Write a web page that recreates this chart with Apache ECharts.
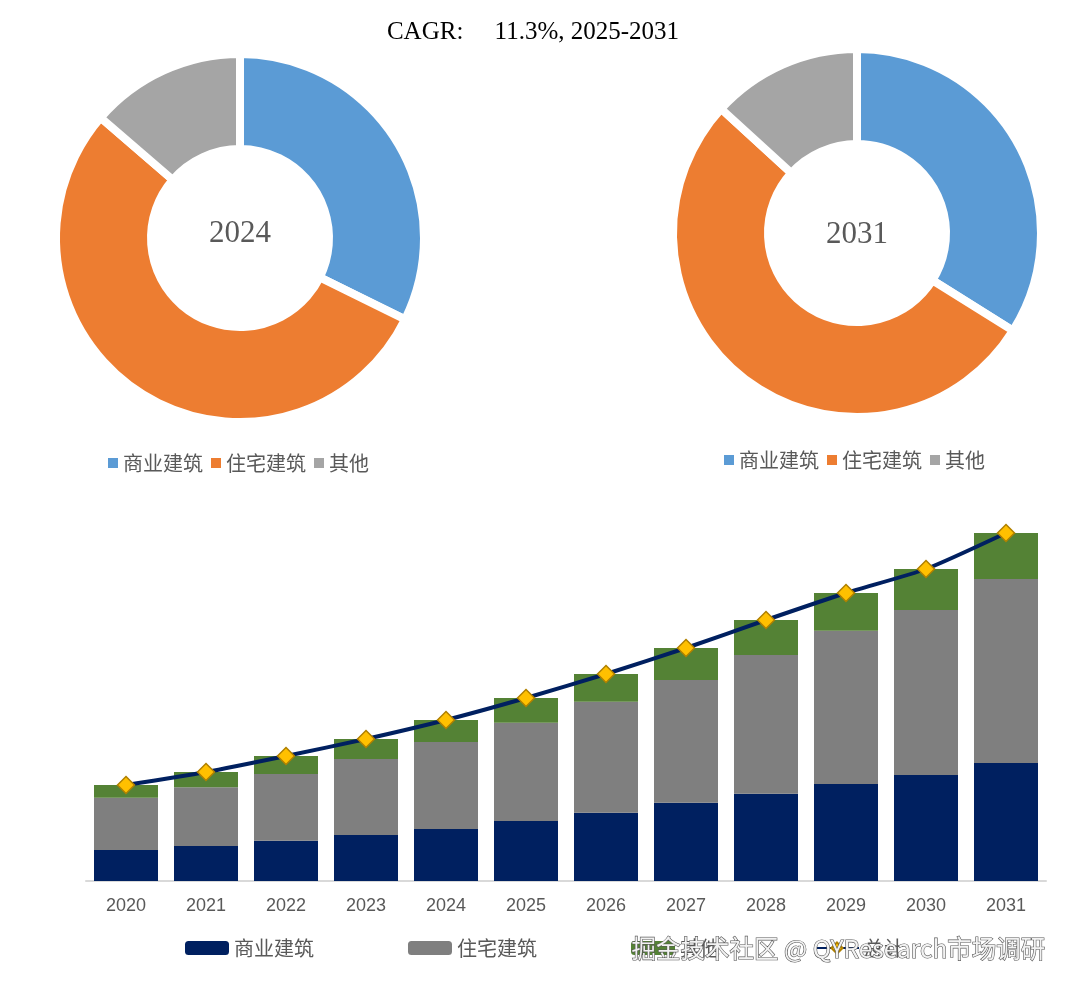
<!DOCTYPE html>
<html>
<head>
<meta charset="utf-8">
<script src="https://cdn.jsdelivr.net/npm/echarts@6/dist/echarts.min.js"></script>
<style>
html,body{margin:0;padding:0;background:#fff;}
#main{width:1077px;height:993px;}
</style>
</head>
<body>
<div id="main"></div>
<script>
// ---- data ----
var years = ['2020','2021','2022','2023','2024','2025','2026','2027','2028','2029','2030','2031'];
var commercial = [31, 35, 40.3, 46, 52, 60, 68.3, 78.3, 87.3, 97, 106, 118];
var residential = [52.3, 58.7, 66.7, 76, 87, 98.3, 111, 122.7, 138.7, 153.3, 165, 184];
var other = [12.7, 15.3, 18, 20, 22, 24.7, 27.7, 32, 35, 37.7, 41, 46];
var segmentNames = ['商业建筑', '住宅建筑', '其他'];
var totalName = '总计';
var pieYears = ['2024', '2031'];
var titleText = 'CAGR:     11.3%, 2025-2031';
var watermark = '掘金技术社区 @ QYResearch市场调研';

var total = years.map(function(y, i){ return +(commercial[i] + residential[i] + other[i]).toFixed(1); });

var pieColors = ['#5B9BD5', '#ED7D31', '#A5A5A5'];
var barColors = ['#002060', '#7F7F7F', '#548235'];

function pieData(year){
  var i = years.indexOf(year);
  var vals = [commercial[i], residential[i], other[i]];
  return segmentNames.map(function(n, k){
    return {name: n, value: vals[k], itemStyle: {color: pieColors[k]}};
  });
}
function pieLegendData(){
  return segmentNames.map(function(n, k){
    return {name: n, icon: 'rect', itemStyle: {color: pieColors[k], borderWidth: 0}};
  });
}

var cjk = '"Noto Sans CJK SC", "Noto Sans", sans-serif';
var serif = '"Liberation Serif", "DejaVu Serif", serif';

var chart = echarts.init(document.getElementById('main'));
var option = {
  backgroundColor: '#fff',
  animation: false,
  title: [
    {text: titleText, left: 528, top: 15, textAlign: 'center', textStyle: {fontFamily: serif, fontSize: 25, fontWeight: 'normal', color: '#000'}},
    {text: pieYears[0], left: 235, top: 229, textAlign: 'center', textVerticalAlign: 'middle',
      textStyle: {fontFamily: serif, fontSize: 31, fontWeight: 'normal', color: '#595959'}},
    {text: pieYears[1], left: 852, top: 230, textAlign: 'center', textVerticalAlign: 'middle',
      textStyle: {fontFamily: serif, fontSize: 31, fontWeight: 'normal', color: '#595959'}}
  ],
  legend: [
    {data: pieLegendData(), left: 103, top: 448, itemWidth: 10, itemHeight: 10, itemGap: 8,
      textStyle: {fontFamily: cjk, fontSize: 20, color: '#595959'}, selectedMode: false},
    {data: pieLegendData(), left: 719, top: 445, itemWidth: 10, itemHeight: 10, itemGap: 8,
      textStyle: {fontFamily: cjk, fontSize: 20, color: '#595959'}, selectedMode: false},
    {data: segmentNames.concat([totalName]), left: 180, top: 933, itemWidth: 44, itemHeight: 14, itemGap: 94,
      textStyle: {fontFamily: cjk, fontSize: 20, color: '#595959'}, selectedMode: false}
  ],
  grid: {left: 86, right: 31, top: 481, bottom: 112},
  xAxis: {
    type: 'category', data: years,
    axisLine: {lineStyle: {color: '#D9D9D9', width: 2}},
    axisTick: {show: false},
    axisLabel: {color: '#595959', fontSize: 18, fontFamily: '"Liberation Sans", sans-serif', margin: 16}
  },
  yAxis: {type: 'value', min: 0, max: 400, show: false, splitLine: {show: false}},
  series: [
    {type: 'pie', name: 'pie2024', center: [240, 238], radius: [89, 184], startAngle: 90, clockwise: true,
      label: {show: false}, labelLine: {show: false}, silent: true,
      itemStyle: {borderColor: '#fff', borderWidth: 8},
      data: pieData(pieYears[0])},
    {type: 'pie', name: 'pie2031', center: [857, 233], radius: [89, 184], startAngle: 90, clockwise: true,
      label: {show: false}, labelLine: {show: false}, silent: true,
      itemStyle: {borderColor: '#fff', borderWidth: 8},
      data: pieData(pieYears[1])},
    {type: 'bar', name: segmentNames[0], stack: 's', data: commercial, barWidth: 64, itemStyle: {color: barColors[0]}},
    {type: 'bar', name: segmentNames[1], stack: 's', data: residential, barWidth: 64, itemStyle: {color: barColors[1]}},
    {type: 'bar', name: segmentNames[2], stack: 's', data: other, barWidth: 64, itemStyle: {color: barColors[2]}},
    {type: 'line', name: totalName, data: total, smooth: 0.2, z: 5,
      lineStyle: {color: '#002060', width: 4},
      symbol: 'diamond', symbolSize: 17, showAllSymbol: true,
      itemStyle: {color: '#FFC000', borderColor: '#B08000', borderWidth: 1.5}}
  ],
  graphic: [
    {type: 'text', left: 631, top: 936, z: 100,
      style: {text: watermark, fontFamily: cjk, fontSize: 24.5, fill: '#f2f2f2', stroke: '#555', lineWidth: 1.2}}
  ]
};
chart.setOption(option);
</script>
</body>
</html>
